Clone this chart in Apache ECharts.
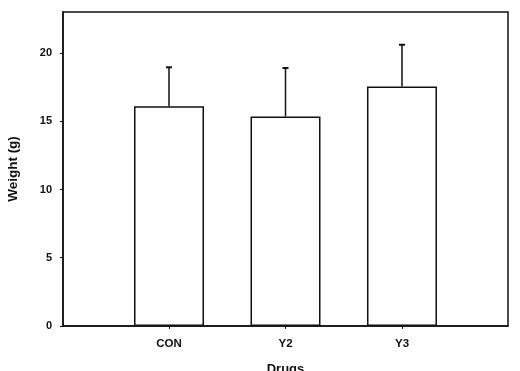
<!DOCTYPE html>
<html><head><meta charset="utf-8">
<script src="https://cdn.jsdelivr.net/npm/echarts@6/dist/echarts.min.js"></script>
<style>html,body{margin:0;padding:0;background:#fff}#c{width:520px;height:371px}</style>
</head><body><div id="c"></div>
<script>
const categories = ['CON', 'Y2', 'Y3'];
const means = [16.1, 15.35, 17.55];
const errors = [2.85, 3.55, 3.05];
const yTicks = [0, 5, 10, 15, 20];

const chart = echarts.init(document.getElementById('c'), null, {renderer: 'canvas'});
const barData = categories.map((c, i) => [i + 1, means[i]]);
const errData = categories.map((c, i) => [i + 1, means[i], means[i] + errors[i]]);
const font = 'Liberation Sans, Arial, sans-serif';
chart.setOption({
  animation: false,
  grid: {left: 63, right: 12, top: 12, bottom: 45, containLabel: false, outerBoundsMode: 'none', show: true, borderColor: '#111', borderWidth: 1.5, backgroundColor: 'transparent'},
  xAxis: {
    type: 'value', min: 0.09, max: 3.91,
    name: 'Drugs', nameLocation: 'middle', nameGap: 37,
    nameTextStyle: {color: '#111', fontSize: 13, fontWeight: 'bold', fontFamily: font, verticalAlign: 'top'},
    axisLine: {show: true, lineStyle: {color: '#111', width: 1.5}},
    axisTick: {show: true, customValues: [1, 2, 3], length: 3, lineStyle: {color: '#111'}},
    axisLabel: {customValues: [1, 2, 3], formatter: v => categories[Math.round(v) - 1] || '', color: '#111', fontSize: 11.5, fontWeight: 'bold', fontFamily: font, margin: 12},
    splitLine: {show: false}
  },
  yAxis: {
    type: 'value', min: 0, max: 23, interval: 5,
    name: 'Weight (g)', nameLocation: 'middle', nameGap: 43,
    nameTextStyle: {color: '#111', fontSize: 13.5, fontWeight: 'bold', fontFamily: font},
    axisLine: {show: true, lineStyle: {color: '#111', width: 1.5}},
    axisTick: {show: true, customValues: yTicks, length: 3, lineStyle: {color: '#111'}},
    axisLabel: {customValues: yTicks, color: '#111', fontSize: 11, fontWeight: 'bold', fontFamily: font, margin: 11},
    splitLine: {show: false}
  },
  series: [
    {
      type: 'bar', data: barData, barWidth: 70,
      itemStyle: {color: '#fff', borderColor: '#111', borderWidth: 1.5},
      z: 2
    },
    {
      type: 'custom', data: errData, z: 3,
      renderItem: function (params, api) {
        const x = api.value(0);
        const top = api.coord([x, api.value(2)]);
        const base = api.coord([x, api.value(1)]);
        const st = {stroke: '#111', lineWidth: 1.5};
        return {type: 'group', children: [
          {type: 'line', shape: {x1: top[0], y1: top[1], x2: base[0], y2: base[1]}, style: st},
          {type: 'line', shape: {x1: top[0] - 3, y1: top[1], x2: top[0] + 3, y2: top[1]}, style: {stroke: '#111', lineWidth: 2}}
        ]};
      }
    }
  ]
});
</script></body></html>
